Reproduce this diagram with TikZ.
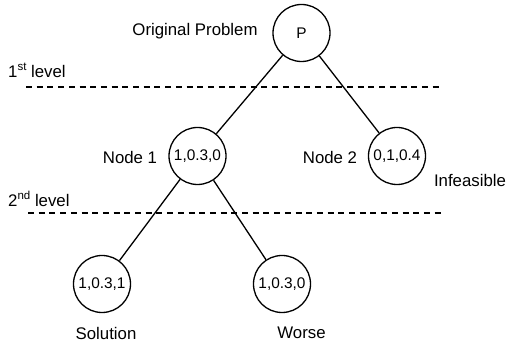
\documentclass[tikz,border=0pt]{standalone}
\usepackage{fontspec}
\setmainfont{Liberation Sans}
\newcommand{\sups}[1]{\raisebox{0.42em}{\fontsize{11.5}{11.5}\selectfont #1}}
\begin{document}
\begin{tikzpicture}[x=1pt,y=-1pt,
  every node/.style={font=\fontsize{16.8}{20}\selectfont},
  bnode/.style={circle,draw,line width=1.3pt,minimum size=57pt,inner sep=0pt,
    font=\fontsize{15.4}{18}\selectfont},
  lbl/.style={inner sep=0pt},
  edge/.style={line width=1.3pt},
  levelline/.style={line width=1.4pt,dash pattern=on 6pt off 4.7pt}]
\useasboundingbox (0,0) rectangle (509,344);

% tree nodes
\node[bnode] (p)  at (301.5,33) {P};
\node[bnode] (n1) at (197.5,156) {1,0.3,0};
\node[bnode] (n2) at (397,156) {0,1,0.4};
\node[bnode] (s)  at (102,284) {1,0.3,1};
\node[bnode] (w)  at (282,284) {1,0.3,0};

% labels
\node[lbl] (lp)  at (195,31) {Original Problem};
\node[lbl] (ln1) at (130,157) {Node 1};
\node[lbl] (ln2) at (330,157) {Node 2};
\node[lbl] (lin) at (470,180) {Infeasible};
\node[lbl] (ls)  at (106,333) {Solution};
\node[lbl] (lw)  at (301.5,333) {Worse};
\node[lbl,anchor=base west] (l1) at (8,78) {1\sups{st} level};
\node[lbl,anchor=base west] (l2) at (8,207) {2\sups{nd} level};

% level separators
\coordinate (a1) at (26,87);
\coordinate (b1) at (443,87);
\coordinate (a2) at (28,213);
\coordinate (b2) at (443,213);
\draw[levelline] (a1) -- (b1);
\draw[levelline] (a2) -- (b2);

% branches
\draw[edge] (p) -- (n1);
\draw[edge] (p) -- (n2);
\draw[edge] (n1) -- (s);
\draw[edge] (n1) -- (w);
\end{tikzpicture}
\end{document}
